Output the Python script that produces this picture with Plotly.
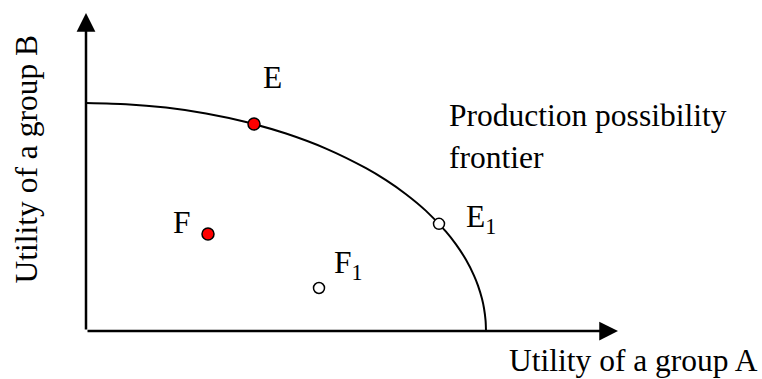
import plotly.graph_objects as go

# ---- data (utility units) ----
frontier_a = [0, 1, 2, 3, 4, 5, 6, 7, 7.5, 8, 8.5, 9, 9.25, 9.5, 9.7, 9.8, 9.9, 9.95, 9.99, 10]
frontier_b = [5.70, 5.671, 5.585, 5.437, 5.224, 4.936, 4.56, 4.07, 3.77, 3.42, 3.003, 2.485,
              2.166, 1.78, 1.386, 1.134, 0.804, 0.569, 0.255, 0]

filled_names = ["E", "F"]
filled_a = [4.2, 3.05]
filled_b = [5.175, 2.425]

open_names = ["E<sub>1</sub>", "F<sub>1</sub>"]
open_a = [8.825, 5.825]
open_b = [2.68, 1.075]

x_title = "Utility of a group A"
y_title = "Utility of a group B"
curve_label = ["Production possibility", "frontier"]

FONT = "Liberation Serif, Times New Roman, serif"
FS = 31.5

fig = go.Figure()

fig.add_trace(go.Scatter(x=frontier_a, y=frontier_b, mode="lines",
                         line=dict(color="black", width=2, shape="spline", smoothing=0.6),
                         hoverinfo="skip"))
fig.add_trace(go.Scatter(x=filled_a, y=filled_b, mode="markers",
                         marker=dict(size=12, color="#ff0000", line=dict(color="black", width=1.5))))
fig.add_trace(go.Scatter(x=open_a, y=open_b, mode="markers",
                         marker=dict(size=11, color="white", line=dict(color="black", width=1.5))))

# axes with arrows
fig.add_annotation(x=13.3, y=0, ax=0, ay=0, xref="x", yref="y", axref="x", ayref="y",
                   text="", showarrow=True, arrowhead=2, arrowsize=1.5, arrowwidth=2.5,
                   arrowcolor="black")
fig.add_annotation(x=0, y=7.95, ax=0, ay=0, xref="x", yref="y", axref="x", ayref="y",
                   text="", showarrow=True, arrowhead=2, arrowsize=1.5, arrowwidth=2.5,
                   arrowcolor="black")

font = dict(family=FONT, size=FS, color="black")

# point labels
fig.add_annotation(x=4.66, y=6.34, text=filled_names[0], showarrow=False, font=font,
                   xanchor="center", yanchor="middle")
fig.add_annotation(x=2.41, y=2.71, text=filled_names[1], showarrow=False, font=font,
                   xanchor="center", yanchor="middle")
fig.add_annotation(x=9.45, y=2.81, text=open_names[0], showarrow=False, font=font,
                   xanchor="left", yanchor="middle")
fig.add_annotation(x=6.15, y=1.66, text=open_names[1], showarrow=False, font=font,
                   xanchor="left", yanchor="middle")

# curve label
fig.add_annotation(x=9.03, y=5.39, text=curve_label[0], showarrow=False, font=font,
                   xanchor="left", yanchor="middle")
fig.add_annotation(x=9.03, y=4.34, text=curve_label[1], showarrow=False, font=font,
                   xanchor="left", yanchor="middle")

# axis titles
fig.add_annotation(x=10.53, y=-0.74, text=x_title, showarrow=False, font=font,
                   xanchor="left", yanchor="middle")
fig.add_annotation(x=-1.49, y=4.3, text=y_title, showarrow=False, font=font,
                   textangle=-90, xanchor="center", yanchor="middle")

fig.update_layout(
    width=762, height=379,
    margin=dict(l=0, r=0, t=0, b=0),
    paper_bgcolor="white", plot_bgcolor="white",
    showlegend=False,
    xaxis=dict(range=[-86 / 40, (762 - 86) / 40], visible=False, fixedrange=True),
    yaxis=dict(range=[(331 - 379) / 40, 331 / 40], visible=False, fixedrange=True),
)

fig.write_html("out.html", config={"displayModeBar": False},
               post_script="document.body.style.margin='0';document.body.style.overflow='hidden';")
